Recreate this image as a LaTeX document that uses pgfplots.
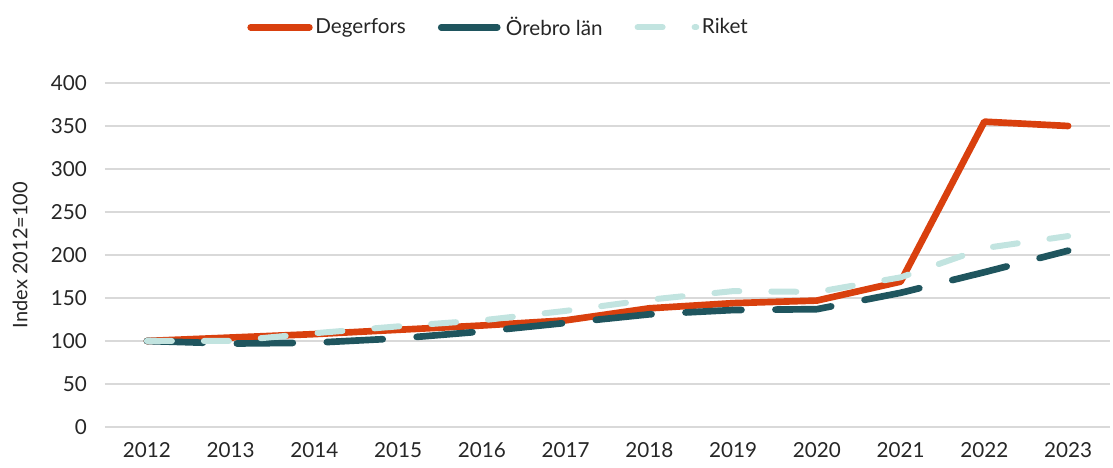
\documentclass[border=0pt]{standalone}
\usepackage{fontspec}
\setmainfont{Lato}
\usepackage{pgfplots}
\pgfplotsset{compat=1.18}
\definecolor{cDeg}{HTML}{D9400E}
\definecolor{cOre}{HTML}{1F555E}
\definecolor{cRik}{HTML}{C2E4E0}
\definecolor{cGrid}{HTML}{D9D9D9}
\definecolor{cTxt}{HTML}{262626}
\begin{document}
\begin{tikzpicture}
\begin{axis}[
  scale only axis, width=753.75pt, height=258pt,
  xmin=-0.5, xmax=11.5, ymin=0, ymax=400,
  xtick={0,...,11},
  xticklabels={2012,2013,2014,2015,2016,2017,2018,2019,2020,2021,2022,2023},
  ytick={0,50,...,400},
  axis line style={draw=none},
  major tick length=0pt,
  ymajorgrids, grid style={cGrid, line width=1.5pt},
  tick label style={font=\fontsize{15.5}{18}\selectfont, text=cTxt},
  /pgf/number format/assume math mode=true,
  yticklabel style={xshift=-10pt},
  xticklabel style={yshift=-8pt},
  ylabel={Index 2012=100},
  ylabel style={font=\fontsize{15}{18}\selectfont, text=cTxt, at={(axis description cs:-0.0845,0.5)}, anchor=center, rotate=0},
  legend columns=3,
  legend style={draw=none, fill=none, at={(axis description cs:0.392,1.162)}, anchor=center,
    font=\fontsize{15.5}{18}\selectfont, text=cTxt,
    /tikz/every even column/.append style={column sep=22pt}},
  legend image code/.code={\draw[#1] (0pt,0pt) -- (44pt,0pt);},
  clip=false,
]
\addplot[cDeg, line width=5pt, line join=round, line cap=round] coordinates {
 (0,100) (1,104) (2,108) (3,113) (4,118) (5,124) (6,138) (7,144) (8,147) (9,169) (10,355) (11,350)};
\addlegendentry{Degerfors}
\addplot[cOre, line width=5pt, line join=round, line cap=round, dash pattern=on 42pt off 25.5pt] coordinates {
 (0,100) (1,97) (2,98) (3,103) (4,111) (5,121) (6,131) (7,136) (8,137) (9,156) (10,180) (11,205)};
\addlegendentry{Örebro län}
\addplot[cRik, line width=4.5pt, line join=round, line cap=round, dash pattern=on 18.75pt off 24pt] coordinates {
 (0,100) (1,100) (2,109) (3,117) (4,124) (5,135) (6,148) (7,158) (8,157) (9,174) (10,208) (11,222)};
\addlegendentry{Riket}
\coordinate (bl) at (rel axis cs:0,0);
\coordinate (tr) at (rel axis cs:1,1);
\end{axis}
\pgfresetboundingbox
\path (bl) ++(-78.75pt,-30.75pt) coordinate (A);
\path (tr) ++(2.25pt,62.25pt) coordinate (B);
\useasboundingbox (A) rectangle (B);
\end{tikzpicture}
\end{document}
